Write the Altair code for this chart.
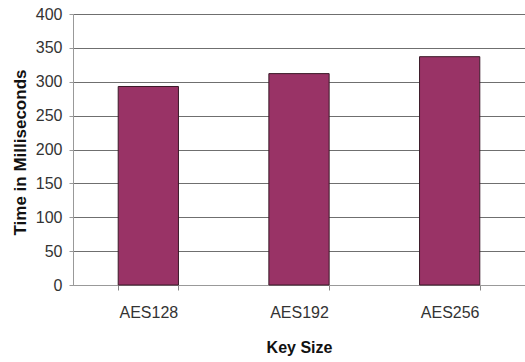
import altair as alt
import pandas as pd

# Encryption time per AES key size
key_sizes = ["AES128", "AES192", "AES256"]
times_ms = [293, 312, 337]
y_ticks = [0, 50, 100, 150, 200, 250, 300, 350, 400]

df = pd.DataFrame({"key": key_sizes, "time": times_ms})

label_font = "Liberation Sans, Arial"
title_font = "Liberation Sans, Arial"

bars = alt.Chart(df).mark_bar(
    color="#993366", stroke="#3a1a28", strokeWidth=1
).encode(
    x=alt.X(
        "key:N",
        sort=key_sizes,
        scale=alt.Scale(paddingInner=0.6, paddingOuter=0.3),
        axis=alt.Axis(
            title="Key Size",
            labelAngle=0,
            labelFont=label_font,
            labelFontSize=16,
            labelColor="#333333",
            labelPadding=14,
            tickBand="extent",
            tickSize=5,
            tickColor="#888888",
            domainColor="#999999",
            grid=False,
            titleFont=title_font,
            titleFontSize=16,
            titleFontWeight="bold",
            titleColor="#111111",
            titleBaseline="middle",
            titleY=62,
        ),
    ),
    y=alt.Y(
        "time:Q",
        scale=alt.Scale(domain=[0, 400], nice=False),
        axis=alt.Axis(
            title="Time in Milliseconds",
            values=y_ticks,
            labelFont=label_font,
            labelFontSize=16,
            labelColor="#333333",
            labelPadding=7,
            tickSize=4,
            tickColor="#999999",
            domainColor="#999999",
            gridColor="#6f6f6f",
            gridWidth=1,
            titleFont=title_font,
            titleFontSize=17,
            titleFontWeight="bold",
            titleColor="#111111",
            titleAngle=-90,
            titleAlign="center",
            titleBaseline="middle",
            titleX=-53,
            titleY=138,
        ),
    ),
)

chart = bars.properties(
    width=452,
    height=271,
    autosize=alt.AutoSizeParams(type="none"),
    padding={"left": 73, "top": 14, "right": 0, "bottom": 77},
    background="white",
).configure_view(stroke=None)

chart.save("out.html", embed_options={"renderer": "svg", "actions": False})
